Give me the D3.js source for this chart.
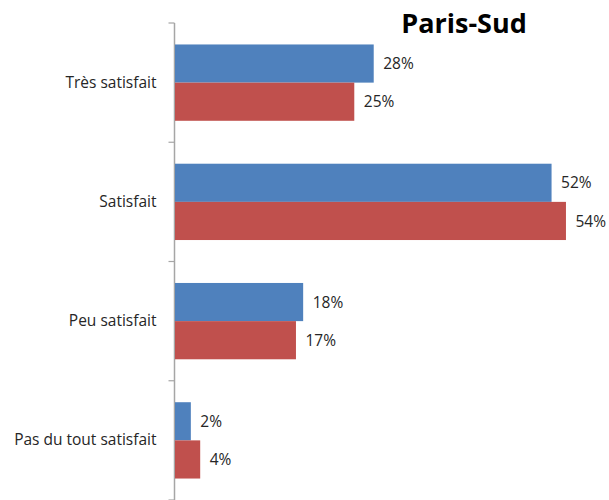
<!DOCTYPE html>
<html>
<head>
<meta charset="utf-8">
<script src="https://cdn.jsdelivr.net/npm/d3@7"></script>
<style>
  body { margin: 0; background: #fff; }
  text { font-family: "Open Sans", "Noto Sans", sans-serif; }
</style>
</head>
<body>
<div class="chart"></div>
<script>
// data (bar lengths, labels are rounded)
var categories = ["Très satisfait", "Satisfait", "Peu satisfait", "Pas du tout satisfait"];
var seriesNames = ["Série 1", "Série 2"];
var blueValues = [27.6, 52.3, 17.8, 2.2];
var redValues = [24.9, 54.3, 16.8, 3.5];
var colors = ["#4f81bd", "#c0504d"];

var svgWidth = 609;
var svgHeight = 500;

var margin = { top: 23, right: 0, bottom: 0, left: 174.5 };
var height = 477; // plot runs to the bottom edge

var svg = d3.select(".chart")
  .append("svg")
  .attr("width", svgWidth)
  .attr("height", svgHeight);

var chartGroup = svg.append("g")
  .attr("transform", `translate(${margin.left}, ${margin.top})`);

// scales
var xScale = d3.scaleLinear()
  .domain([0, 60])
  .range([0, 432]);

var yScale = d3.scaleBand()
  .domain(categories)
  .range([0, height])
  .paddingInner(0.36)
  .paddingOuter(0.18);

var sub = d3.scaleBand()
  .domain(seriesNames)
  .range([0, yScale.bandwidth()]);

// y axis
var yAxis = d3.axisLeft(yScale)
  .tickSize(0)
  .tickPadding(18);

var axisG = chartGroup.append("g").call(yAxis);
axisG.select(".domain").remove();
axisG.selectAll("text")
  .attr("font-size", "15.5px")
  .attr("fill", "#262626")
  .style("font-family", "'Open Sans', 'Noto Sans', sans-serif");

// axis line and the boundary ticks between categories
chartGroup.append("line")
  .attr("x1", 0).attr("x2", 0)
  .attr("y1", 0).attr("y2", height + 5)
  .attr("stroke", "#a6a6a6")
  .attr("stroke-width", 1.5);

var boundaries = d3.range(categories.length + 1).map(function(i) { return i * (height / categories.length); });
chartGroup.selectAll(".tick-mark")
  .data(boundaries)
  .enter()
  .append("line")
  .attr("class", "tick-mark")
  .attr("x1", -6).attr("x2", 0)
  .attr("y1", d => d).attr("y2", d => d)
  .attr("stroke", "#a6a6a6")
  .attr("stroke-width", 1.2);

// bars
var rows = categories.map(function(c, i) {
  return { cat: c, vals: [blueValues[i], redValues[i]] };
});

var groups = chartGroup.selectAll(".cat")
  .data(rows)
  .enter()
  .append("g")
  .attr("transform", d => `translate(0, ${yScale(d.cat)})`);

groups.selectAll("rect")
  .data(d => d.vals.map(function(v, j) { return { v: v, s: seriesNames[j], j: j }; }))
  .enter()
  .append("rect")
  .attr("x", 0.5)
  .attr("y", d => sub(d.s))
  .attr("width", d => xScale(d.v))
  .attr("height", sub.bandwidth())
  .attr("fill", d => colors[d.j]);

groups.selectAll(".lbl")
  .data(d => d.vals.map(function(v, j) { return { v: v, s: seriesNames[j] }; }))
  .enter()
  .append("text")
  .attr("class", "lbl")
  .attr("x", d => xScale(d.v) + 10)
  .attr("y", d => sub(d.s) + sub.bandwidth() / 2)
  .attr("dy", "0.36em")
  .attr("font-size", "15.5px")
  .attr("fill", "#262626")
  .text(d => Math.round(d.v) + "%");

// title
svg.append("text")
  .attr("x", 464)
  .attr("y", 33)
  .attr("text-anchor", "middle")
  .attr("font-size", "27px")
  .attr("font-weight", "bold")
  .attr("fill", "#000")
  .text("Paris-Sud");
</script>
</body>
</html>
